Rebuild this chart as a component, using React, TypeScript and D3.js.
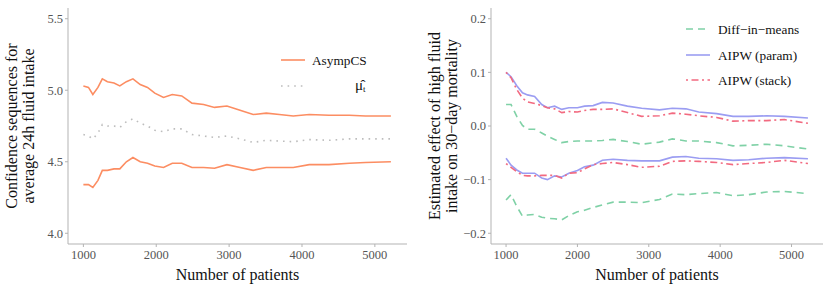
import React from 'react';
import * as d3 from 'd3';

// left panel: confidence sequences for mean fluid intake
const xLeft = [1000, 1070, 1130, 1200, 1260, 1330, 1420, 1500, 1590, 1680, 1780, 1880, 1980, 2100, 2220, 2350, 2490, 2650, 2800, 2970, 3150, 3330, 3510, 3690, 3880, 4100, 4370, 4650, 4870, 5220];
const csUpper = [5.03, 5.02, 4.97, 5.02, 5.08, 5.06, 5.05, 5.03, 5.06, 5.08, 5.04, 5.02, 4.98, 4.95, 4.97, 4.96, 4.91, 4.90, 4.88, 4.89, 4.86, 4.83, 4.84, 4.83, 4.82, 4.83, 4.825, 4.825, 4.82, 4.82];
const csLower = [4.34, 4.34, 4.32, 4.37, 4.44, 4.44, 4.45, 4.45, 4.50, 4.53, 4.50, 4.49, 4.47, 4.46, 4.49, 4.49, 4.46, 4.46, 4.455, 4.48, 4.46, 4.44, 4.46, 4.46, 4.46, 4.48, 4.48, 4.49, 4.495, 4.50];
const muHat = [4.69, 4.68, 4.66, 4.70, 4.76, 4.75, 4.75, 4.74, 4.78, 4.80, 4.77, 4.75, 4.72, 4.71, 4.73, 4.73, 4.69, 4.68, 4.67, 4.68, 4.66, 4.635, 4.65, 4.645, 4.64, 4.655, 4.65, 4.66, 4.66, 4.66];
const leftTicksY = [4.0, 4.5, 5.0, 5.5];

// right panel: effect of high fluid intake on 30-day mortality
const xRight = [1000, 1070, 1150, 1230, 1300, 1400, 1500, 1580, 1680, 1780, 1880, 2000, 2100, 2220, 2350, 2500, 2700, 2900, 3150, 3330, 3520, 3700, 3950, 4180, 4400, 4650, 4900, 5230];
const diffUpper = [0.040, 0.040, 0.018, 0.001, -0.006, -0.006, -0.013, -0.019, -0.025, -0.031, -0.029, -0.028, -0.028, -0.028, -0.027, -0.025, -0.029, -0.034, -0.030, -0.024, -0.028, -0.028, -0.031, -0.037, -0.036, -0.034, -0.037, -0.043];
const diffLower = [-0.138, -0.128, -0.150, -0.168, -0.166, -0.165, -0.170, -0.172, -0.173, -0.175, -0.167, -0.160, -0.157, -0.152, -0.147, -0.142, -0.142, -0.143, -0.137, -0.127, -0.128, -0.126, -0.124, -0.130, -0.128, -0.123, -0.122, -0.126];
const paramUpper = [0.100, 0.092, 0.075, 0.062, 0.058, 0.055, 0.040, 0.034, 0.037, 0.031, 0.034, 0.034, 0.037, 0.038, 0.044, 0.043, 0.037, 0.033, 0.030, 0.033, 0.032, 0.026, 0.023, 0.018, 0.018, 0.019, 0.018, 0.015];
const paramLower = [-0.060, -0.073, -0.082, -0.088, -0.088, -0.088, -0.097, -0.100, -0.093, -0.095, -0.088, -0.083, -0.076, -0.073, -0.064, -0.062, -0.064, -0.065, -0.065, -0.058, -0.057, -0.060, -0.061, -0.064, -0.063, -0.060, -0.059, -0.061];
const stackUpper = [0.100, 0.090, 0.068, 0.052, 0.045, 0.042, 0.038, 0.034, 0.032, 0.025, 0.027, 0.026, 0.029, 0.031, 0.031, 0.032, 0.025, 0.018, 0.019, 0.024, 0.022, 0.019, 0.016, 0.009, 0.010, 0.010, 0.012, 0.005];
const stackLower = [-0.070, -0.077, -0.085, -0.092, -0.093, -0.093, -0.092, -0.092, -0.092, -0.097, -0.088, -0.087, -0.080, -0.072, -0.070, -0.068, -0.072, -0.077, -0.075, -0.066, -0.065, -0.066, -0.068, -0.072, -0.070, -0.068, -0.064, -0.070];
const rightTicksY = [-0.2, -0.1, 0.0, 0.1, 0.2];

const xTicks = [1000, 2000, 3000, 4000, 5000];

const FONT = 'Liberation Serif, Times New Roman, Times, serif';
const AXIS = '#b3b3b3';
const TICK_TEXT = '#555';

const ORANGE = '#fc8d62';
const GREY = '#bdbdbd';
const GREEN = '#7fd1a6';
const BLUE = '#9b9df2';
const RED = '#f26a80';

const DASH = '7 5';
const DOT = '1.6 5';
const DOTDASH = '2 3.5 7 3.5';

type Series = { y: number[]; color: string; dash?: string };

const Panel = ({ x0, x1, yDomain, yTicks, fmt, xs, series, titleLines }: {
  x0: number; x1: number; yDomain: [number, number]; yTicks: number[];
  fmt: (v: number) => string; xs: number[]; series: Series[]; titleLines: string[];
}) => {
  const top = 8, bottom = 244;
  const x = d3.scaleLinear().domain([789, 5441]).range([x0, x1]);
  const y = d3.scaleLinear().domain(yDomain).range([bottom, top]);
  const line = d3.line<number>().x((_, i) => x(xs[i])).y(d => y(d));
  const cx = (x0 + x1) / 2;
  return (
    <g>
      {series.map((s, i) => (
        <path key={i} d={line(s.y) || ''} fill="none" stroke={s.color} strokeWidth={1.6}
          strokeDasharray={s.dash} />
      ))}
      <line x1={x0} x2={x0} y1={top} y2={bottom} stroke={AXIS} strokeWidth={1} />
      <line x1={x0} x2={x1} y1={bottom} y2={bottom} stroke={AXIS} strokeWidth={1} />
      {yTicks.map(t => (
        <g key={t}>
          <line x1={x0 - 3} x2={x0} y1={y(t)} y2={y(t)} stroke={AXIS} />
          <text x={x0 - 5} y={y(t)} dy="0.35em" textAnchor="end" fontSize={12.5}
            fill={TICK_TEXT} style={{ fontFamily: FONT }}>{fmt(t)}</text>
        </g>
      ))}
      {xTicks.map(t => (
        <g key={t}>
          <line x1={x(t)} x2={x(t)} y1={bottom} y2={bottom + 3} stroke={AXIS} />
          <text x={x(t)} y={bottom + 15} textAnchor="middle" fontSize={12.5}
            fill={TICK_TEXT} style={{ fontFamily: FONT }}>{t}</text>
        </g>
      ))}
      <text x={cx} y={280} textAnchor="middle" fontSize={16} fill="#111" style={{ fontFamily: FONT }}>
        Number of patients
      </text>
      {titleLines.map((l, i) => (
        <text key={i} transform={`translate(${x0 - 51 + i * 17},${(top + bottom) / 2}) rotate(-90)`}
          textAnchor="middle" fontSize={16} fill="#111" style={{ fontFamily: FONT }}>{l}</text>
      ))}
    </g>
  );
};

const LegendItem = ({ x, y, color, dash, children }: { x: number; y: number; color: string; dash?: string; children: React.ReactNode }) => (
  <g>
    <line x1={x} x2={x + 24} y1={y} y2={y} stroke={color} strokeWidth={1.6} strokeDasharray={dash} />
    {children}
  </g>
);

export default function App() {
  const fmt1 = (v: number) => d3.format('.1f')(v).replace('-', '\u2212');
  const legendText = { fontFamily: FONT };
  return (
    <svg width={830} height={291} style={{ display: 'block', position: 'absolute', left: 0, top: 0, background: '#fff' }}>
      <Panel x0={68} x1={407} yDomain={[3.925, 5.575]} yTicks={leftTicksY} fmt={fmt1}
        xs={xLeft}
        series={[
          { y: csUpper, color: ORANGE },
          { y: csLower, color: ORANGE },
          { y: muHat, color: GREY, dash: DOT },
        ]}
        titleLines={['Confidence sequences for', 'average 24h fluid intake']} />
      <Panel x0={491} x1={823} yDomain={[-0.22, 0.22]} yTicks={rightTicksY} fmt={fmt1}
        xs={xRight}
        series={[
          { y: diffUpper, color: GREEN, dash: DASH },
          { y: diffLower, color: GREEN, dash: DASH },
          { y: paramUpper, color: BLUE },
          { y: paramLower, color: BLUE },
          { y: stackUpper, color: RED, dash: DOTDASH },
          { y: stackLower, color: RED, dash: DOTDASH },
        ]}
        titleLines={['Estimated effect of high fluid', 'intake on 30\u2212day mortality']} />

      <LegendItem x={281} y={60} color={ORANGE}>
        <text x={312} y={60} dy="0.35em" fontSize={13.3} style={legendText} fill="#111">AsympCS</text>
      </LegendItem>
      <LegendItem x={281} y={86} color={GREY} dash={DOT}>
        <text x={355} y={90} fontSize={15} style={legendText} fill="#111">
          {'\u03BC\u0302'}<tspan fontSize={9} dy={2}>t</tspan>
        </text>
      </LegendItem>

      <LegendItem x={686} y={29} color={GREEN} dash={DASH}>
        <text x={718} y={29} dy="0.35em" fontSize={13.3} style={legendText} fill="#111">Diff{'\u2212'}in{'\u2212'}means</text>
      </LegendItem>
      <LegendItem x={686} y={55} color={BLUE}>
        <text x={718} y={55} dy="0.35em" fontSize={13.3} style={legendText} fill="#111">AIPW (param)</text>
      </LegendItem>
      <LegendItem x={686} y={80} color={RED} dash={DOTDASH}>
        <text x={718} y={80} dy="0.35em" fontSize={13.3} style={legendText} fill="#111">AIPW (stack)</text>
      </LegendItem>
    </svg>
  );
}
